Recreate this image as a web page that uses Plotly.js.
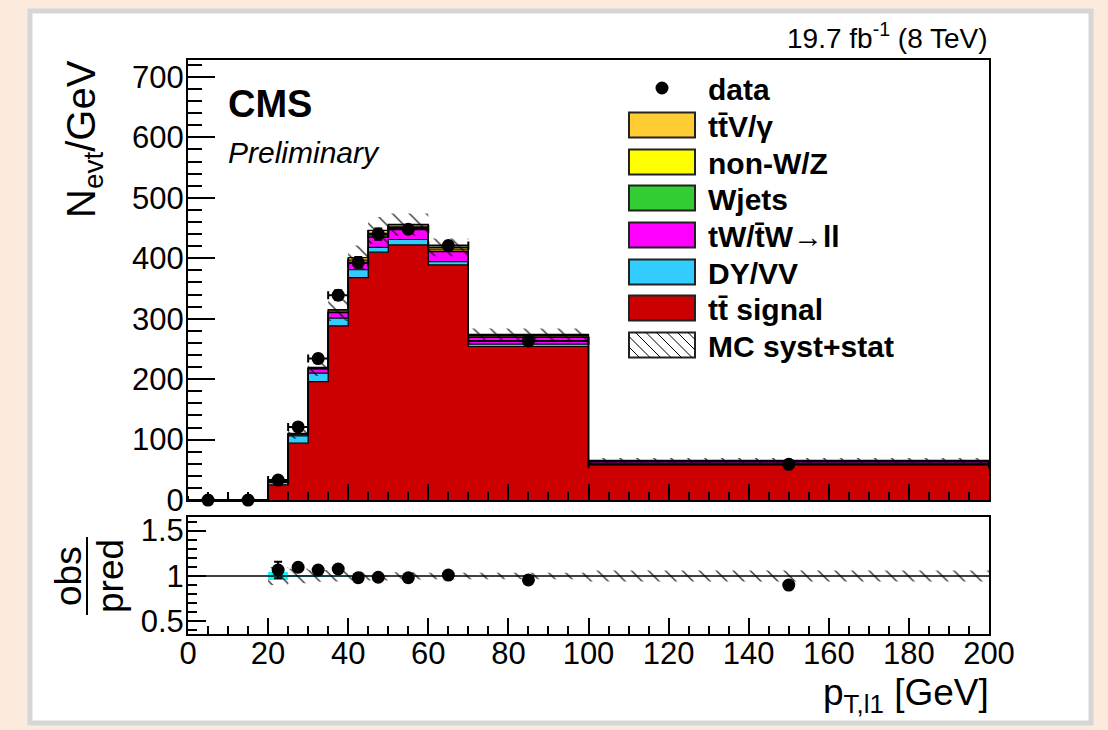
<!DOCTYPE html>
<html><head><meta charset="utf-8">
<script src="https://cdn.plot.ly/plotly-3.0.1.min.js"></script>
<style>html,body{margin:0;padding:0;background:#FCEBDC;}</style>
</head><body><div id="chart" style="width:1108px;height:730px;"></div>
<script>
// ---------------- data ----------------
const binEdges    = [0,10,20,25,30,35,40,45,50,60,70,100,200];
const dataValues  = [0,0,33,121,234,339,393,440,448,421,263,59];
const dataStatErr = [0,0,2.6,4.9,6.8,8.2,8.9,9.4,6.7,6.5,3.0,0.8];
const ttSignal    = [0,0,25,94,196,288,368,410,422,389,254,58];
const dyVV        = [0,0,4,12,14,13,13,8,9,5.5,4,1.5];
const tWll        = [0,0,1.5,3,7,9,11,17,19,16.5,11,3.5];
const wJets       = [0,0,0.1,0.4,0.5,1,1,2,1,1,1,0.5];
const nonWZ       = [0,0,0.2,0.5,1,2,4,4,2,3,2,1];
const ttV         = [0,0,0.2,0.5,1,2,4,5,3,3,2,1];
const mcRelUnc    = [0,0,0.10,0.08,0.065,0.06,0.05,0.05,0.04,0.035,0.035,0.06];
const ratioValues = [null,null,1.066,1.096,1.066,1.077,0.98,0.986,0.98,1.01,0.956,0.90];
const ratioErr    = [0,0,0.09,0.045,0.03,0.025,0.022,0.02,0.015,0.015,0.012,0.014];
const ratioStat   = [0,0,0.045,0.01,0.008,0.006,0.005,0.005,0.004,0.004,0.003,0.003];
const legendLabels = ['data','tt\u0304V/γ','non-W/Z','Wjets','tW/t\u0304W→ll','DY/VV','tt\u0304 signal','MC syst+stat'];

// ---------------- helpers ----------------
const FONT = 'Liberation Sans, Arial, Helvetica, sans-serif';
const centers = binEdges.slice(0,-1).map((e,i)=>(e+binEdges[i+1])/2);
const halfW   = binEdges.slice(0,-1).map((e,i)=>(binEdges[i+1]-e)/2);
const PX = px => (px-188)/801;
const PY = py => (634-py)/574;

function binRects(lo, hi){
  const xs=[], ys=[];
  for(let i=0;i<lo.length;i++){
    if(!(hi[i]-lo[i] > 0)) continue;
    const a=binEdges[i], b=binEdges[i+1];
    xs.push(a,b,b,a,a,null); ys.push(hi[i],hi[i],lo[i],lo[i],hi[i],null);
  }
  return {x:xs, y:ys};
}

const comps = [
  {vals: ttSignal, color:'#CC0000'},
  {vals: dyVV,     color:'#33CCFF'},
  {vals: tWll,     color:'#FF00FF'},
  {vals: wJets,    color:'#33CC33'},
  {vals: nonWZ,    color:'#FFFF00'},
  {vals: ttV,      color:'#FFCC33'}
];
const legendColors = [null,'#FFCC33','#FFFF00','#33CC33','#FF00FF','#33CCFF','#CC0000','hatch'];

const traces = [];
let cum = new Array(ttSignal.length).fill(0);
comps.forEach((c,k)=>{
  cum = cum.map((v,i)=>v+c.vals[i]);
  traces.push({type:'scatter', mode:'lines', x:binEdges, y:cum.concat([cum[cum.length-1]]),
    line:{shape:'hv', color:'black', width:1.2}, fill: k===0?'tozeroy':'tonexty',
    fillcolor:c.color, xaxis:'x', yaxis:'y', showlegend:false, hoverinfo:'skip'});
});
const total = cum;

// MC uncertainty band (main)
const bandMain = binRects(total.map((t,i)=>t*(1-mcRelUnc[i])), total.map((t,i)=>t*(1+mcRelUnc[i])));
const hatch = {shape:'\\', size:12, solidity:0.1, fgcolor:'black', bgcolor:'rgba(0,0,0,0)'};
traces.push({type:'scatter', mode:'lines', x:bandMain.x, y:bandMain.y, fill:'toself',
  fillcolor:'black', fillpattern:hatch, line:{width:0, color:'rgba(0,0,0,0)'},
  xaxis:'x', yaxis:'y', showlegend:false, hoverinfo:'skip'});

// data (main)
traces.push({type:'scatter', mode:'markers', x:centers, y:dataValues, cliponaxis:false,
  marker:{color:'black', size:13},
  error_x:{type:'data', array:halfW, color:'black', thickness:2, width:4},
  error_y:{type:'data', array:dataStatErr, color:'black', thickness:2, width:4},
  xaxis:'x', yaxis:'y', showlegend:false, hoverinfo:'skip'});

// ratio: stat band (cyan)
const cyanBand = binRects(ratioStat.map(r=>1-r), ratioStat.map(r=>1+r));
traces.push({type:'scatter', mode:'lines', x:cyanBand.x, y:cyanBand.y, fill:'toself',
  fillcolor:'#00FFFF', line:{width:0, color:'rgba(0,0,0,0)'},
  xaxis:'x2', yaxis:'y2', showlegend:false, hoverinfo:'skip'});
// ratio: MC unc band (hatched)
const bandRatio = binRects(mcRelUnc.map(r=>1-r), mcRelUnc.map(r=>1+r));
traces.push({type:'scatter', mode:'lines', x:bandRatio.x, y:bandRatio.y, fill:'toself',
  fillcolor:'black', fillpattern:hatch, line:{width:0, color:'rgba(0,0,0,0)'},
  xaxis:'x2', yaxis:'y2', showlegend:false, hoverinfo:'skip'});
// unity line
traces.push({type:'scatter', mode:'lines', x:[binEdges[0], binEdges[binEdges.length-1]], y:[1,1],
  line:{color:'black', width:1.5}, xaxis:'x2', yaxis:'y2', showlegend:false, hoverinfo:'skip'});
// ratio points
traces.push({type:'scatter', mode:'markers', x:centers, y:ratioValues, cliponaxis:false,
  marker:{color:'black', size:13},
  error_y:{type:'data', array:ratioErr, color:'black', thickness:2, width:4},
  xaxis:'x2', yaxis:'y2', showlegend:false, hoverinfo:'skip'});

// ---------------- layout ----------------
const axBase = {showline:true, linewidth:2, linecolor:'black', mirror:true, showgrid:false,
  zeroline:false, ticks:'inside', tickwidth:2, tickcolor:'black',
  tickfont:{family:FONT, size:31, color:'black'}};

const shapes = [
  {type:'rect', xref:'paper', yref:'paper', x0:PX(30), x1:PX(1091), y0:PY(723), y1:PY(11),
   fillcolor:'white', line:{color:'#D6D6D6', width:5}, layer:'below'},
  // fraction bar obs/pred
  {type:'line', xref:'paper', yref:'paper', x0:PX(87), x1:PX(87), y0:PY(537), y1:PY(615),
   line:{color:'black', width:2}}
];
const annotations = [
  {text:'<b>CMS</b>', x:PX(226), y:PY(104), xanchor:'left', yanchor:'middle', font:{size:38}},
  {text:'<i>Preliminary</i>', x:PX(226), y:PY(152), xanchor:'left', yanchor:'middle', font:{size:30}},
  {text:'19.7 fb<sup>-1</sup> (8 TeV)', x:PX(990), y:PY(36), xanchor:'right', yanchor:'middle', font:{size:28}},
  {text:'N<sub>evt</sub>/GeV', x:PX(84), y:PY(58), xanchor:'center', yanchor:'top', textangle:-90, font:{size:40}},
  {text:'obs', x:PX(68), y:PY(576), xanchor:'center', yanchor:'middle', textangle:-90, font:{size:37}},
  {text:'pred', x:PX(110), y:PY(576), xanchor:'center', yanchor:'middle', textangle:-90, font:{size:37}},
  {text:'p<sub>T,l1</sub> [GeV]', x:PX(991), y:PY(670), xanchor:'right', yanchor:'top', font:{size:37}}
];

// legend (drawn manually to match ROOT-style boxes)
const rowY = [88,125,162,198,235,272,308,345];
const bx0 = 629, bx1 = 695, bh = 25;
legendLabels.forEach((lab,i)=>{
  const yc = rowY[i];
  annotations.push({text:'<b>'+lab+'</b>', x:PX(706), y:PY(yc+1), xanchor:'left', yanchor:'middle', font:{size:30}});
  const col = legendColors[i];
  if(col === null){
    shapes.push({type:'circle', xref:'paper', yref:'paper', xsizemode:'pixel', ysizemode:'pixel',
      xanchor:PX(662), yanchor:PY(yc), x0:-6.5, x1:6.5, y0:-6.5, y1:6.5,
      fillcolor:'black', line:{color:'black', width:0}});
  } else if(col === 'hatch'){
    shapes.push({type:'rect', xref:'paper', yref:'paper', x0:PX(bx0), x1:PX(bx1), y0:PY(yc+bh/2), y1:PY(yc-bh/2),
      fillcolor:'white', line:{color:'#222', width:2}});
    let p = '';
    const top = yc-bh/2;
    for(let a = bx0-bh; a < bx1; a += 10.5){
      const xs = Math.max(a, bx0), xe = Math.min(a+bh, bx1);
      if(xe <= xs) continue;
      const ys = top + (xs-a), ye = top + (xe-a);
      p += `M${PX(xs)},${PY(ys)} L${PX(xe)},${PY(ye)} `;
    }
    shapes.push({type:'path', xref:'paper', yref:'paper', path:p, line:{color:'black', width:1}});
  } else {
    shapes.push({type:'rect', xref:'paper', yref:'paper', x0:PX(bx0), x1:PX(bx1), y0:PY(yc+bh/2), y1:PY(yc-bh/2),
      fillcolor:col, line:{color:'#222', width:2}});
  }
});
annotations.forEach(a=>{ a.xref='paper'; a.yref='paper'; a.showarrow=false;
  a.font = Object.assign({family:FONT, color:'black'}, a.font); });

const layout = {
  width:1108, height:730,
  margin:{l:188, r:119, t:60, b:96, pad:0},
  paper_bgcolor:'#FCEBDC', plot_bgcolor:'white', showlegend:false,
  font:{family:FONT, color:'black'},
  xaxis:Object.assign({}, axBase, {domain:[0,1], anchor:'y', range:[0,200], showticklabels:false,
    tickmode:'linear', tick0:0, dtick:20, ticklen:16,
    minor:{ticks:'inside', ticklen:8, tickwidth:2, tickcolor:'black', tickmode:'linear', tick0:0, dtick:5, showgrid:false}}),
  yaxis:Object.assign({}, axBase, {domain:[0.2334,1], anchor:'x', range:[0,728],
    tickmode:'linear', tick0:0, dtick:100, ticklen:27, ticklabelstandoff:-4,
    minor:{ticks:'inside', ticklen:14, tickwidth:2, tickcolor:'black', tickmode:'linear', tick0:0, dtick:20, showgrid:false}}),
  xaxis2:Object.assign({}, axBase, {domain:[0,1], anchor:'y2', range:[0,200],
    tickmode:'linear', tick0:0, dtick:20, ticklen:16, ticklabelstandoff:-9,
    minor:{ticks:'inside', ticklen:8, tickwidth:2, tickcolor:'black', tickmode:'linear', tick0:0, dtick:5, showgrid:false}}),
  yaxis2:Object.assign({}, axBase, {domain:[0,0.203], anchor:'x2', range:[0.36,1.645],
    tickmode:'array', tickvals:[0.5,1,1.5], ticktext:['0.5','1','1.5'], ticklen:18, ticklabelstandoff:-4,
    minor:{ticks:'inside', ticklen:9, tickwidth:2, tickcolor:'black', tickmode:'linear', tick0:0, dtick:0.1, showgrid:false}}),
  shapes:shapes, annotations:annotations
};

Plotly.newPlot('chart', traces, layout, {displayModeBar:false, staticPlot:true});
</script>
</body></html>
